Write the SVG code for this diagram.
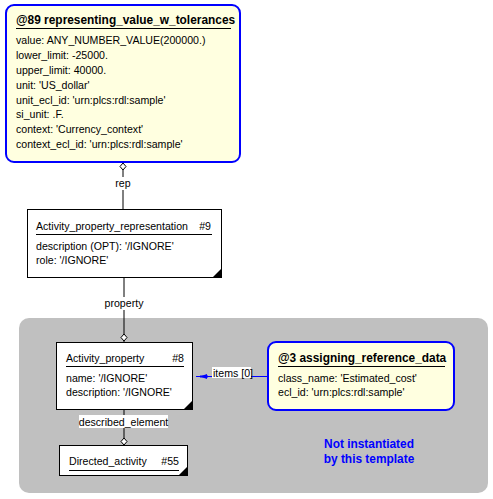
<svg xmlns="http://www.w3.org/2000/svg" width="493" height="499" viewBox="0 0 493 499">
<style>
text{font-family:"Liberation Sans",Arial,sans-serif;font-size:10.6px;fill:#000}
.b{font-weight:bold;font-size:11.9px}
.blue{fill:#0000FF;font-weight:bold;font-size:11.9px}
.ent{fill:#FFFFFF;stroke:#000;stroke-width:1}
.tpl{fill:#FFFFE0;stroke:#0000FF;stroke-width:2}
.ul{stroke:#000;stroke-width:1}
.con{stroke:#000;stroke-width:1;fill:none}
.dia{fill:#FFFFFF;stroke:#000;stroke-width:1}
.lbl{fill:#FFFFFF}
</style>
<rect x="19" y="318" width="469" height="175" rx="10" fill="#C0C0C0"/>
<g id="connectors">
<line class="con" x1="123" y1="170" x2="123" y2="209"/>
<polygon class="dia" points="123,163 126,166.5 123,170 120,166.5"/>
<rect class="lbl" x="115" y="177" width="16" height="13"/>
<text x="123" y="187" text-anchor="middle">rep</text>
<line class="con" x1="124" y1="278" x2="124" y2="342"/>
<rect class="lbl" x="103" y="297" width="42" height="13"/>
<text x="124" y="307" text-anchor="middle">property</text>
<polygon class="dia" points="124,334 127,337.5 124,341 121,337.5"/>
<line class="con" x1="124" y1="410" x2="124" y2="445"/>
<rect class="lbl" x="79" y="415" width="89" height="13"/>
<text x="123.5" y="426" text-anchor="middle">described_element</text>
<polygon class="dia" points="124,438 127,441.5 124,445 121,441.5"/>
<line x1="196" y1="376.5" x2="268" y2="376.5" stroke="#0000FF" stroke-width="1"/>
<polygon points="200,376.5 207,374 207,379" fill="#0000FF"/>
<line x1="200" y1="376.5" x2="208" y2="376.5" stroke="#0000FF" stroke-width="2"/>
<rect class="lbl" x="212" y="367" width="39" height="11"/>
<text x="213" y="377">items [0]</text>
</g>
<g id="n89">
<rect class="tpl" x="6" y="5" width="234" height="157" rx="8"/>
<text class="b" x="16" y="24">@89 representing_value_w_tolerances</text>
<line class="ul" x1="16" y1="28.5" x2="231" y2="28.5"/>
<text x="16" y="44">value: ANY_NUMBER_VALUE(200000.)</text>
<text x="16" y="59">lower_limit: -25000.</text>
<text x="16" y="74">upper_limit: 40000.</text>
<text x="16" y="89">unit: 'US_dollar'</text>
<text x="16" y="104">unit_ecl_id: 'urn:plcs:rdl:sample'</text>
<text x="16" y="118">si_unit: .F.</text>
<text x="16" y="133">context: 'Currency_context'</text>
<text x="16" y="148">context_ecl_id: 'urn:plcs:rdl:sample'</text>
</g>
<g id="n9">
<rect class="ent" x="27.5" y="209.5" width="194" height="68"/>
<polygon points="221.5,268.5 221.5,277.5 212.5,277.5" fill="#000"/>
<text x="36" y="230">Activity_property_representation</text>
<text x="211" y="230" text-anchor="end">#9</text>
<line class="ul" x1="36" y1="234.5" x2="212" y2="234.5"/>
<text x="36" y="250">description (OPT): '/IGNORE'</text>
<text x="36" y="264">role: '/IGNORE'</text>
</g>
<g id="n8">
<rect class="ent" x="56.5" y="342.5" width="136" height="67"/>
<polygon points="192.5,400.5 192.5,409.5 183.5,409.5" fill="#000"/>
<text x="66" y="362">Activity_property</text>
<text x="184" y="362" text-anchor="end">#8</text>
<line class="ul" x1="66" y1="366.5" x2="184" y2="366.5"/>
<text x="66" y="382">name: '/IGNORE'</text>
<text x="66" y="396">description: '/IGNORE'</text>
</g>
<g id="n55">
<rect class="ent" x="59.5" y="445.5" width="128" height="30"/>
<polygon points="187.5,466.5 187.5,475.5 178.5,475.5" fill="#000"/>
<text x="69" y="465">Directed_activity</text>
<text x="179" y="465" text-anchor="end">#55</text>
<line class="ul" x1="69" y1="470.5" x2="179" y2="470.5"/>
</g>
<g id="n3">
<rect class="tpl" x="268" y="342" width="186" height="68" rx="8"/>
<text class="b" x="278" y="362">@3 assigning_reference_data</text>
<line class="ul" x1="278" y1="366.5" x2="445" y2="366.5"/>
<text x="278" y="382">class_name: 'Estimated_cost'</text>
<text x="278" y="396">ecl_id: 'urn:plcs:rdl:sample'</text>
</g>
<g id="note">
<text class="blue" x="369" y="448" text-anchor="middle">Not instantiated</text>
<text class="blue" x="369" y="463" text-anchor="middle">by this template</text>
</g>
</svg>
